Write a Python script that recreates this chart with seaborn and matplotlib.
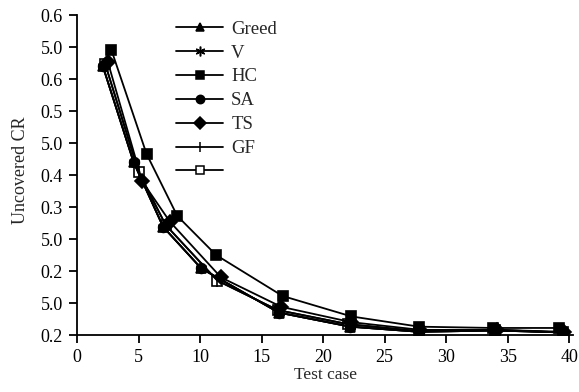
import pandas as pd
import seaborn as sns
import matplotlib.pyplot as plt
from matplotlib.lines import Line2D

# valores
x_hc = [2.8, 5.65, 8.15, 11.3, 16.7, 22.3, 27.8, 33.8, 39.2]
y_hc = [0.445, 0.283, 0.186, 0.125, 0.061, 0.029, 0.013, 0.011, 0.011]

x_a = [2.1, 4.6, 7.0, 10.1, 16.4, 22.2, 27.8, 34.0, 39.5]
y_a = [0.420, 0.270, 0.169, 0.104, 0.035, 0.013, 0.005, 0.007, 0.004]

x_ts = [2.5, 5.3, 7.55, 11.7, 16.6, 22.3, 27.9, 34.1, 39.6]
y_ts = [0.427, 0.240, 0.177, 0.090, 0.044, 0.020, 0.008, 0.008, 0.005]

x_gf = [2.3, 5.0, 7.2, 11.4, 16.3, 22.0, 27.8, 34.0, 39.5]
y_gf = [0.423, 0.255, 0.172, 0.085, 0.039, 0.017, 0.006, 0.008, 0.004]

series = ['Greed', 'V', 'HC', 'SA', 'TS', 'GF', '']
markers = ['^', (6, 2, 0), 's', 'o', 'D', '|', 's']
xs = [x_a, x_a, x_hc, x_a, x_ts, x_gf, x_gf]
ys = [y_a, y_a, y_hc, y_a, y_ts, y_gf, y_gf]

ytick_vals = [0, 0.05, 0.1, 0.15, 0.2, 0.25, 0.3, 0.35, 0.4, 0.45, 0.5]
ytick_labels = ['0.2', '5.0', '0.2', '5.0', '0.3', '0.4', '5.0', '0.5', '0.6', '5.0', '0.6']
xtick_vals = [0, 5, 10, 15, 20, 25, 30, 35, 40]

sns.set_style('ticks')
plt.rcParams['font.family'] = ['Liberation Serif', 'DejaVu Serif']

fig = plt.figure(figsize=(5.79, 3.92), dpi=100)
ax = fig.add_axes([77 / 579, 1 - 335 / 392, (573 - 77) / 579, (335 - 15) / 392])

handles = []
for name, m, x, y in zip(series, markers, xs, ys):
    face = 'white' if name == '' else 'black'
    ms = 6 if m not in ['|', (6, 2, 0)] else 7
    handles.append(Line2D([], [], color='black', lw=1.3, marker=m, markersize=ms,
                          markerfacecolor=face, markeredgecolor='black',
                          markeredgewidth=1.1, label=name))

# el cuadrado abierto va debajo de los demas
orden = [6, 0, 1, 2, 3, 4, 5]
for i in orden:
    m = markers[i]
    df = pd.DataFrame({'x': xs[i], 'y': ys[i]})
    face = 'white' if series[i] == '' else 'black'
    ms = 7 if m not in ['|', (6, 2, 0)] else 8
    sns.lineplot(data=df, x='x', y='y', ax=ax, color='black', lw=1.3,
                 marker=m, markersize=ms, markerfacecolor=face,
                 markeredgecolor='black', markeredgewidth=1.2, sort=False)

ax.set_xlim(0, 40.3)
ax.set_ylim(0, 0.5)
ax.set_xticks(xtick_vals)
ax.set_yticks(ytick_vals)
ax.set_yticklabels(ytick_labels)
ax.tick_params(labelsize=13, length=6, width=1.3, pad=4, colors='black')
for s in ['left', 'bottom']:
    ax.spines[s].set_linewidth(1.3)
    ax.spines[s].set_color('black')
sns.despine(ax=ax)
ax.set_xlabel('Test case', fontsize=12.5, labelpad=1)
ax.set_ylabel('Uncovered CR', fontsize=13)
ax.yaxis.set_label_coords(-0.097, 0.516)

ax.legend(handles=handles, loc='upper left', bbox_to_anchor=(0.185, 1.006),
          frameon=False, fontsize=13.5, handlelength=2.5, labelspacing=0.36,
          handletextpad=0.43, borderaxespad=0)

plt.savefig('out.png', dpi=100)
